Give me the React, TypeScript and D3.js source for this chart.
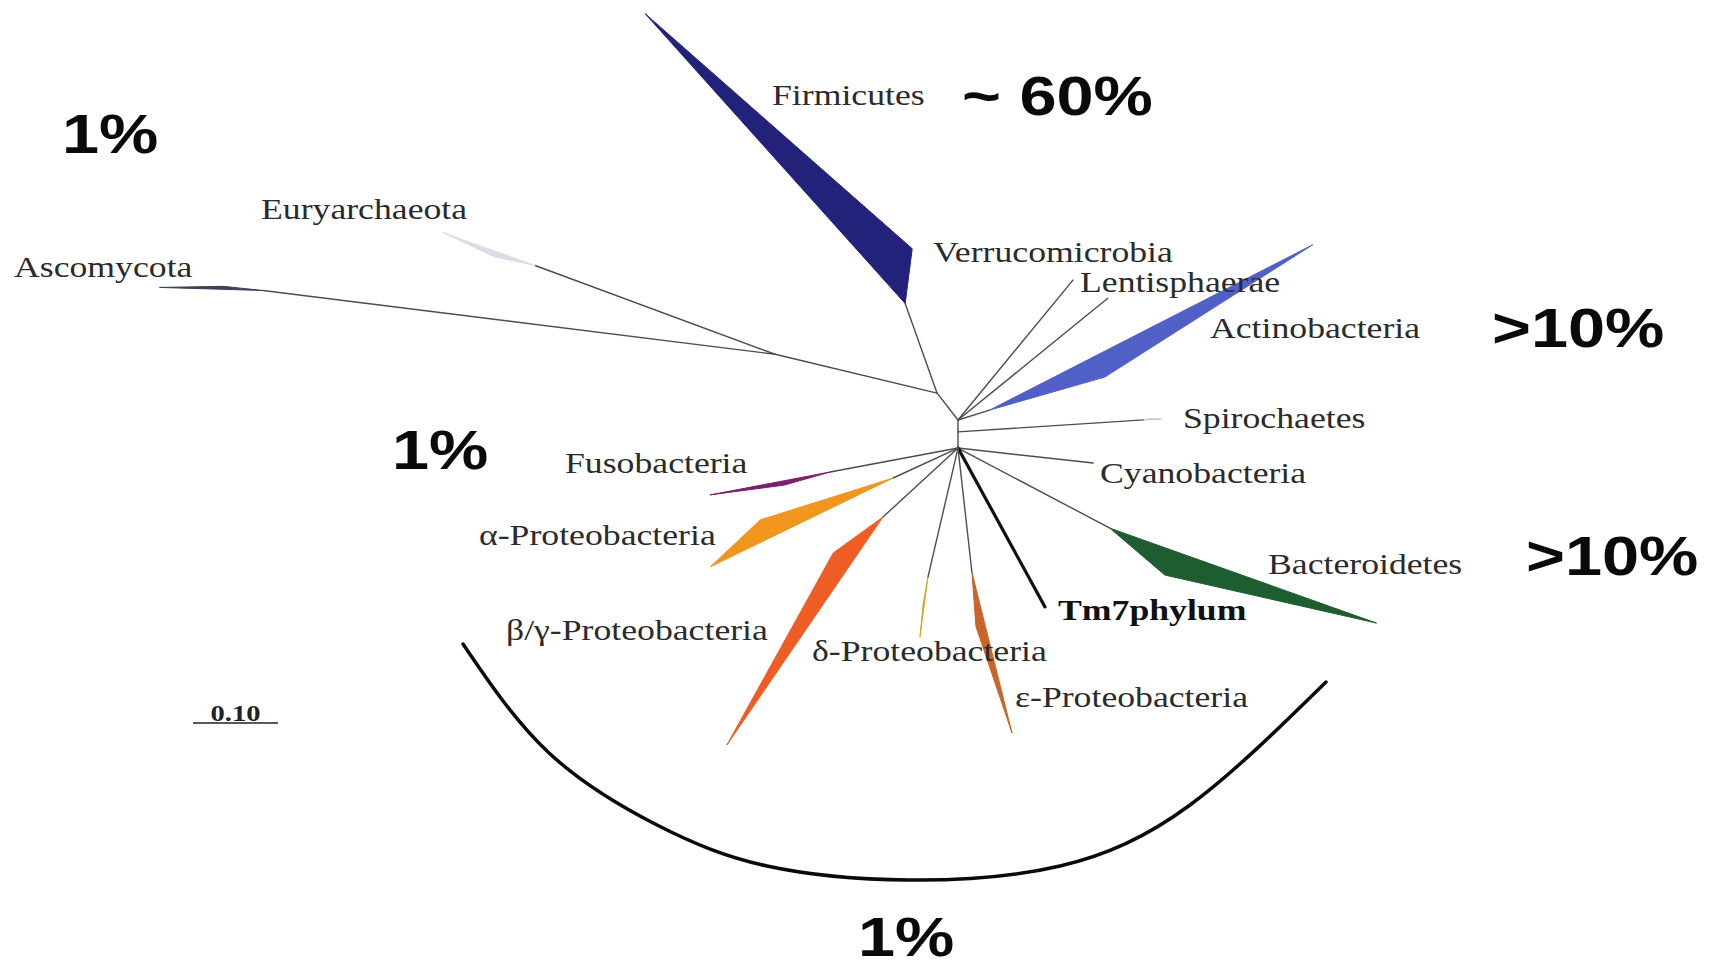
import React from "react";
import * as d3 from "d3";

// ---------------- data ----------------
// internal nodes of the unrooted tree (branch angle in degrees, length in substitutions/site)
const innerNodes = ["core", "mid", "lower", "firmicutesJoint", "eukArchJoint"];
const innerParents = [null, "core", "mid", "core", "firmicutesJoint"];
const innerAngles = [0, 90, 90, 232.1, 193.5];
const innerLengths = [0, 0.014, 0.019, 0.04, 0.196];

// phyla (terminal clades)
const phyla = [
  "Firmicutes",
  "Verrucomicrobia",
  "Lentisphaerae",
  "Actinobacteria",
  "Spirochaetes",
  "Cyanobacteria",
  "Bacteroidetes",
  "Tm7phylum",
  "ε-Proteobacteria",
  "δ-Proteobacteria",
  "β/γ-Proteobacteria",
  "α-Proteobacteria",
  "Fusobacteria",
  "Euryarchaeota",
  "Ascomycota",
];
const phylumParents = [
  "firmicutesJoint", "core", "core", "core", "mid", "lower", "lower", "lower",
  "lower", "lower", "lower", "lower", "lower", "eukArchJoint", "eukArchJoint",
];
const branchAngles = [250.4, 309.4, 320.9, 342.6, 356.3, 6.3, 27.8, 61.3, 83.6, 103.1, 137.4, 155.2, 169.4, 200.3, 187.1];
const branchLengths = [0.112, 0.213, 0.227, 0.039, 0.219, 0.16, 0.202, 0.213, 0.147, 0.156, 0.12, 0.084, 0.153, 0.301, 0.607];
// collapsed clade wedges: shallowest and deepest member
const wedgeNearAngles = [277.3, null, null, 344.0, 350, null, 40.5, null, 85.8, 100.1, 144.2, 162.5, 164, 192, 186];
const wedgeNearLengths = [0.065, null, null, 0.141, 0.009, null, 0.085, null, 0.064, 0.033, 0.072, 0.164, 0.056, 0.049, 0.047];
const wedgeFarAngles = [228.1, null, null, 332.9, 358, null, 19.6, null, 76.0, 97.6, 124.4, 154.1, 169.2, 199.7, 181.7];
const wedgeFarLengths = [0.458, null, null, 0.427, 0.021, null, 0.333, null, 0.195, 0.071, 0.325, 0.239, 0.144, 0.115, 0.122];

const abundanceLabels = ["~ 60%", "1%", ">10%", ">10%", "1%", "1%"];
const scaleBarValue = 0.1;
const scaleBarLabel = "0.10";

// ---------------- styles & layout ----------------
const phylumColors: Record<string, string> = {
  Firmicutes: "#23227a",
  Actinobacteria: "#5160c6",
  Spirochaetes: "#c9c9c9",
  Bacteroidetes: "#1e5d2f",
  "ε-Proteobacteria": "#c9652b",
  "δ-Proteobacteria": "#d6a52c",
  "β/γ-Proteobacteria": "#ee5d24",
  "α-Proteobacteria": "#f0961e",
  Fusobacteria: "#7b1f6c",
  Euryarchaeota: "#d9dde5",
  Ascomycota: "#3c4157",
};

const labelLayout: Record<string, [number, number]> = {
  Firmicutes: [772, 105],
  Verrucomicrobia: [933, 262],
  Lentisphaerae: [1080, 292],
  Actinobacteria: [1210, 338],
  Spirochaetes: [1183, 428],
  Cyanobacteria: [1100, 483],
  Bacteroidetes: [1268, 574],
  Tm7phylum: [1058, 620],
  "ε-Proteobacteria": [1015, 707],
  "δ-Proteobacteria": [812, 661],
  "β/γ-Proteobacteria": [506, 640],
  "α-Proteobacteria": [479, 545],
  Fusobacteria: [565, 473],
  Euryarchaeota: [261, 219],
  Ascomycota: [14, 277],
};

const abundanceLayout: [number, number][] = [
  [962, 115],
  [62, 153],
  [1492, 347],
  [1526, 575],
  [392, 469],
  [858, 956],
];

const bracketPoints: [number, number][] = [
  [463, 644],
  [548, 752],
  [657, 825],
  [767, 866],
  [909, 880],
  [1060, 866],
  [1190, 805],
  [1326, 682],
];

const ROOT: [number, number] = [958, 420];
const SERIF = "'Liberation Serif', 'Times New Roman', serif";
const SANS = "'Liberation Sans', Arial, sans-serif";
const XSTRETCH = 1.19;

export default function App() {
  const W = 1718;
  const H = 967;
  const len = d3.scaleLinear().domain([0, scaleBarValue]).range([0, 85]);

  const step = (p: [number, number], a: number, l: number): [number, number] => {
    const r = (a * Math.PI) / 180;
    return [p[0] + Math.cos(r) * len(l), p[1] + Math.sin(r) * len(l)];
  };

  const pos = new Map<string, [number, number]>();
  const innerEdges: [number, number][][] = [];
  innerNodes.forEach((n, i) => {
    const par = innerParents[i];
    if (!par) {
      pos.set(n, ROOT);
    } else {
      const pp = pos.get(par)!;
      const p = step(pp, innerAngles[i], innerLengths[i]);
      pos.set(n, p);
      innerEdges.push([pp, p]);
    }
  });

  const branches = phyla.map((name, i) => {
    const pp = pos.get(phylumParents[i])!;
    const base = step(pp, branchAngles[i], branchLengths[i]);
    let wedge: [number, number][] | null = null;
    if (wedgeNearAngles[i] != null) {
      wedge = [
        base,
        step(base, wedgeNearAngles[i] as number, wedgeNearLengths[i] as number),
        step(base, wedgeFarAngles[i] as number, wedgeFarLengths[i] as number),
      ];
    }
    return { name, from: pp, base, wedge };
  });

  const bracket = d3.line().curve(d3.curveNatural)(bracketPoints) || "";
  const sbX0 = 193;
  const sbY = 723;

  return (
    <div style={{ position: "absolute", left: 0, top: 0 }}>
      <svg width={W} height={H} viewBox={`0 0 ${W} ${H}`} style={{ display: "block", background: "#fff" }}>
        <rect x={0} y={0} width={W} height={H} fill="#fff" />
        {/* inner edges */}
        {innerEdges.map((e, i) => (
          <line key={"ie" + i} x1={e[0][0]} y1={e[0][1]} x2={e[1][0]} y2={e[1][1]} stroke="#4d4d4d" strokeWidth={1.4} strokeLinecap="round" />
        ))}
        {/* branches */}
        {branches.map((b) => (
          <g key={b.name}>
            <line
              x1={b.from[0]}
              y1={b.from[1]}
              x2={b.base[0]}
              y2={b.base[1]}
              stroke={b.name === "Tm7phylum" ? "#111" : "#4d4d4d"}
              strokeWidth={b.name === "Tm7phylum" ? 3.2 : 1.4}
              strokeLinecap="round"
            />
            {b.wedge && (
              <polygon
                points={b.wedge.map((p) => p.join(",")).join(" ")}
                fill={phylumColors[b.name]}
                stroke={phylumColors[b.name]}
                strokeWidth={1}
                strokeLinejoin="round"
              />
            )}
          </g>
        ))}
        {/* phylum labels */}
        {phyla.map((name) => {
          const [x, y] = labelLayout[name];
          return (
            <text
              key={"l" + name}
              transform={`translate(${x},${y}) scale(${XSTRETCH},1)`}
              fontFamily={SERIF}
              fontSize={30}
              fontWeight={name === "Tm7phylum" ? "bold" : "normal"}
              fill={name === "Tm7phylum" ? "#111" : "#2b2b2b"}
            >
              {name}
            </text>
          );
        })}
        {/* abundance annotations */}
        {abundanceLabels.map((t, i) => {
          const [x, y] = abundanceLayout[i];
          return (
            <text
              key={"a" + i}
              transform={`translate(${x},${y}) scale(${XSTRETCH},1)`}
              fontFamily={SANS}
              fontWeight="bold"
              fontSize={56}
              fill="#0a0a0a"
            >
              {t}
            </text>
          );
        })}
        {/* bracket */}
        <path d={bracket} fill="none" stroke="#0a0a0a" strokeWidth={3.5} strokeLinecap="round" />
        {/* scale bar */}
        <line x1={sbX0} y1={sbY} x2={sbX0 + len(scaleBarValue)} y2={sbY} stroke="#222" strokeWidth={1.6} />
        <text
          transform={`translate(${sbX0 + len(scaleBarValue) / 2},${sbY - 2}) scale(${XSTRETCH},1)`}
          textAnchor="middle"
          fontFamily={SERIF}
          fontWeight="bold"
          fontSize={24}
          fill="#222"
        >
          {scaleBarLabel}
        </text>
      </svg>
    </div>
  );
}
